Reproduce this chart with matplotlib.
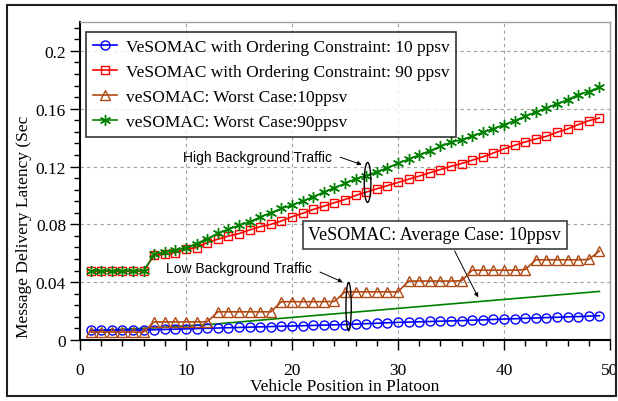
import numpy as np
import matplotlib
matplotlib.use('Agg')
import matplotlib.pyplot as plt
from matplotlib.patches import Ellipse, Rectangle

plt.rcParams['font.family'] = ['Liberation Serif', 'DejaVu Serif']
fs = 12.5

# vehicle position in platoon
pos = list(range(1, 50))

# VeSOMAC with ordering constraint, 10 ppsv
order_10 = [0.0068, 0.0068, 0.0068, 0.0069, 0.0069, 0.0070, 0.0071, 0.0073, 0.0075, 0.0077,
            0.0079, 0.0081, 0.0083, 0.0085, 0.0087, 0.0089, 0.0091, 0.0093, 0.0095, 0.0097,
            0.0099, 0.0101, 0.0103, 0.0105, 0.0107, 0.0110, 0.0113, 0.0116, 0.0119, 0.0122,
            0.0124, 0.0126, 0.0128, 0.0130, 0.0132, 0.0134, 0.0137, 0.0139, 0.0142, 0.0145,
            0.0147, 0.0150, 0.0152, 0.0155, 0.0157, 0.0160, 0.0162, 0.0165, 0.0168]

# VeSOMAC with ordering constraint, 90 ppsv
order_90 = [0.0478, 0.0478, 0.0478, 0.0478, 0.0478, 0.0478, 0.0586, 0.0593, 0.0605, 0.0628,
            0.0639, 0.0674, 0.0697, 0.0719, 0.0736, 0.0761, 0.0784, 0.0800, 0.0823, 0.0853,
            0.0876, 0.0903, 0.0926, 0.0950, 0.0972, 0.1000, 0.1023, 0.1046, 0.1068, 0.1090,
            0.1112, 0.1134, 0.1157, 0.1179, 0.1202, 0.1221, 0.1244, 0.1267, 0.1294, 0.1322,
            0.1347, 0.1370, 0.1391, 0.1409, 0.1437, 0.1460, 0.1490, 0.1517, 0.1536]

# worst case, 10 ppsv
worst_10 = [0.0055, 0.0055, 0.0055, 0.0055, 0.0055, 0.0055, 0.0125, 0.0125, 0.0125, 0.0125,
            0.0125, 0.0125, 0.0195, 0.0195, 0.0195, 0.0195, 0.0195, 0.0195, 0.0265, 0.0265,
            0.0265, 0.0265, 0.0265, 0.0267, 0.0333, 0.0333, 0.0333, 0.0333, 0.0333, 0.0333,
            0.0408, 0.0408, 0.0408, 0.0408, 0.0408, 0.0410, 0.0483, 0.0483, 0.0483, 0.0483,
            0.0483, 0.0487, 0.0555, 0.0555, 0.0555, 0.0555, 0.0555, 0.0557, 0.0616]

# worst case, 90 ppsv
worst_90 = [0.0478, 0.0478, 0.0478, 0.0478, 0.0478, 0.0478, 0.0593, 0.0609, 0.0620, 0.0639,
            0.0667, 0.0701, 0.0738, 0.0766, 0.0793, 0.0818, 0.0850, 0.0880, 0.0910, 0.0933,
            0.0961, 0.0991, 0.1023, 0.1053, 0.1083, 0.1115, 0.1138, 0.1163, 0.1192, 0.1222,
            0.1251, 0.1280, 0.1309, 0.1339, 0.1368, 0.1386, 0.1409, 0.1437, 0.1462, 0.1490,
            0.1517, 0.1547, 0.1577, 0.1605, 0.1634, 0.1662, 0.1697, 0.1719, 0.1750]

# average case, 10 ppsv (plain line)
avg_pos = [1, 7, 13, 19, 25, 31, 37, 43, 49]
avg_10 = [0.0064, 0.0084, 0.0112, 0.0150, 0.0187, 0.0225, 0.0262, 0.0299, 0.0336]

labels = ['VeSOMAC with Ordering Constraint: 10 ppsv',
          'VeSOMAC with Ordering Constraint: 90 ppsv',
          'veSOMAC: Worst Case:10ppsv',
          'veSOMAC: Worst Case:90ppsv']

fig = plt.figure(figsize=(6.18, 4.02), dpi=100)
ax = fig.add_axes([80/618, 61/402, 530/618, 318/402])

ax.plot(avg_pos, avg_10, c='#008000', lw=1.2, zorder=2)
ax.plot(pos, order_10, c='#0000ff', lw=1.2, marker='o', ms=6.5, mfc='none', mew=1.0,
        label=labels[0], zorder=3)
ax.plot(pos, order_90, c='#ff0000', lw=1.2, marker='s', ms=5.5, mfc='none', mew=1.0,
        label=labels[1], zorder=3)
ax.plot(pos, worst_10, c='#b04812', lw=1.2, marker='^', ms=6.5, mfc='none', mew=1.0,
        label=labels[2], zorder=4)
ax.plot(pos, worst_90, c='#008000', lw=1.2, marker=(6, 2, 0), ms=8, mew=1.0,
        label=labels[3], zorder=5)

ax.set_xlim(0, 50)
ax.set_ylim(0, 0.22)
ax.set_xticks([0, 10, 20, 30, 40, 50])
ax.set_xticks(np.arange(0, 51, 2), minor=True)
ax.set_yticks([0, 0.04, 0.08, 0.12, 0.16, 0.2])
ax.set_yticklabels(['0', '0.04', '0.08', '0.12', '0.16', '0.2'])
ax.set_yticks(np.arange(0, 0.2201, 0.008), minor=True)
ax.tick_params(which='major', direction='out', length=7, width=1, labelsize=fs)
ax.tick_params(which='minor', direction='out', length=4, width=1)
ax.tick_params(axis='x', which='major', pad=9)
ax.tick_params(axis='y', which='major', pad=3)

for s in ['left', 'bottom']:
    ax.spines[s].set_linewidth(1.5)
for s in ['top', 'right']:
    ax.spines[s].set_color('#a0a0a0')
    ax.spines[s].set_linewidth(1.0)

ax.grid(True, which='major', color='#a0a0a0', ls=(0, (3, 3)), lw=0.8)
ax.set_axisbelow(True)

ax.set_xlabel('Vehicle Position in Platoon', fontsize=fs, labelpad=-0.5)
fig.text(24/618, (402-338)/402, 'Message Delivery Latency (Sec', rotation=90,
         fontsize=fs, ha='center', va='bottom')

leg = ax.legend(loc='upper left', bbox_to_anchor=(0.011, 0.969), borderaxespad=0,
                fontsize=fs, frameon=True, fancybox=False, edgecolor='black',
                handlelength=1.4, handletextpad=0.5, labelspacing=0.52,
                borderpad=0.4)
leg.get_frame().set_linewidth(1.2)

# annotations
sans = ['Liberation Sans', 'DejaVu Sans']
ax.text(9.73, 0.1269, 'High Background Traffic', family=sans, fontsize=10,
        ha='left', va='center')
ax.annotate('', xy=(26.82, 0.1207), xytext=(24.3, 0.1271),
            arrowprops=dict(arrowstyle='-|>', color='black', lw=0.7,
                            mutation_scale=6))
ax.add_patch(Ellipse((27.13, 0.109), 0.63, 0.0276, fill=False, ec='black', lw=1.0,
                     zorder=6))

ax.text(8.12, 0.0501, 'Low Background Traffic', family=sans, fontsize=10,
        ha='left', va='center')
ax.annotate('', xy=(25.02, 0.0393), xytext=(22.4, 0.0478),
            arrowprops=dict(arrowstyle='-|>', color='black', lw=0.7,
                            mutation_scale=6))
ax.add_patch(Ellipse((25.34, 0.0231), 0.5, 0.0333, fill=False, ec='black', lw=1.0,
                     zorder=6))

ax.text(33.47, 0.0728, 'VeSOMAC: Average Case: 10ppsv', fontsize=13, ha='center',
        va='center', zorder=7,
        bbox=dict(boxstyle='square,pad=0.3', fc='white', ec='#404040', lw=1.2))
ax.annotate('', xy=(37.68, 0.0278), xytext=(35.22, 0.0634),
            arrowprops=dict(arrowstyle='-|>', color='black', lw=0.7,
                            mutation_scale=6))

# border around the whole figure
fig.patches.append(Rectangle((7/618, 5/402), 609/618, 391/402, transform=fig.transFigure,
                             fill=False, ec='#202020', lw=1.5))

plt.savefig('out.png', dpi=100)
